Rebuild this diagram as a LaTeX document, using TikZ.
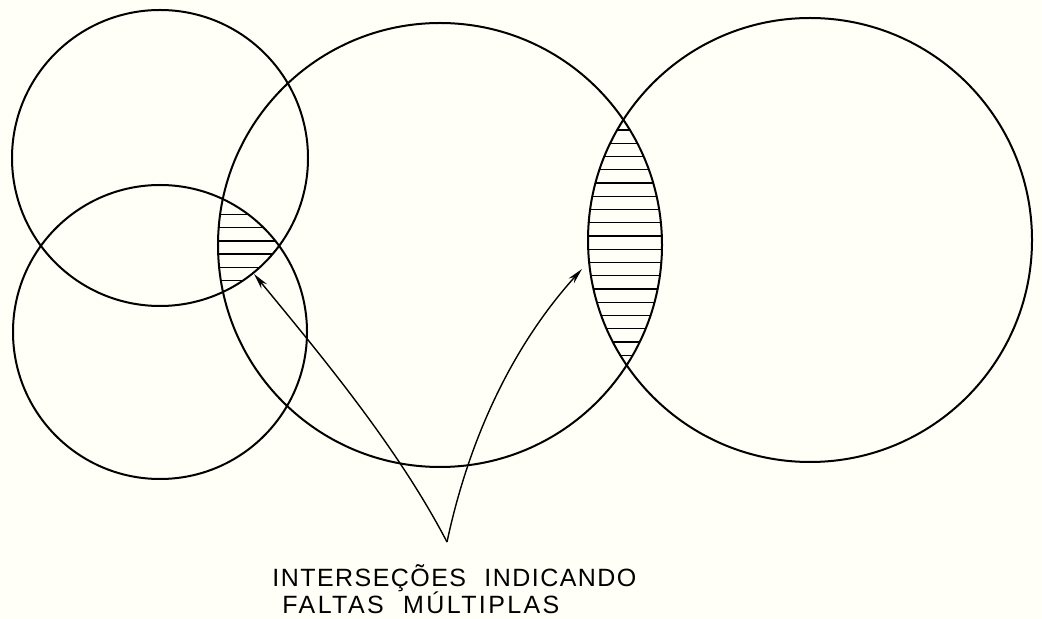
\documentclass[tikz,border=0pt]{standalone}
\usepackage{fontspec}
\setmainfont{Liberation Sans}
\newfontfamily\plotfont{Liberation Sans}
\usetikzlibrary{arrows.meta}
\definecolor{paper}{RGB}{255,255,247}
\tikzset{
  ring/.style={draw,line width=1pt},
  hatch/.style={line width=0.7pt},
  pointer/.style={-{Stealth[length=8pt,width=3.6pt]},line width=0.7pt},
  caption/.style={font=\plotfont\fontsize{12.5}{14}\selectfont,inner sep=0pt,anchor=base west}
}

\begin{document}
\begin{tikzpicture}[x=0.5pt,y=-0.5pt]
\fill[paper] (0,0) rectangle (1042,619);
\useasboundingbox (0,0) rectangle (1042,619);
\coordinate (ca) at (160,158);
\coordinate (cb) at (160,332);
\coordinate (cc) at (440,245);
\coordinate (cd) at (810,240);
% hatched overlaps
\begin{scope}
  \clip (ca) circle (148);
  \clip (cb) circle (147);
  \clip (cc) circle (222);
  \foreach \y in {0,...,6} \draw[hatch] (200,214.5+13.2*\y) -- (320,214.5+13.2*\y);
\end{scope}
\begin{scope}
  \clip (cc) circle (222);
  \clip (cd) circle (222);
  \foreach \y in {0,...,17} \draw[hatch] (570,130+13.25*\y) -- (680,130+13.25*\y);
\end{scope}
% circles
\draw[ring] (ca) circle (148);
\draw[ring] (cb) circle (147);
\draw[ring] (cc) circle (222);
\draw[ring] (cd) circle (222);
% caption and pointers
\node[caption] (ta) at (272,586) {\addfontfeatures{LetterSpace=5.8}INTERSEÇÕES\hspace{5pt} INDICANDO};
\node[caption] (tb) at (282,613) {\addfontfeatures{LetterSpace=9.6}FALTAS\hspace{5pt} MÚLTIPLAS};
\coordinate (apex) at (447,542);
\coordinate (tipl) at (254,274);
\coordinate (tipr) at (582,269);
\draw[pointer] (apex) .. controls (398,448) and (324,359) .. (tipl);
\draw[pointer] (apex) .. controls (470,434) and (515,343) .. (tipr);
\end{tikzpicture}
\end{document}
